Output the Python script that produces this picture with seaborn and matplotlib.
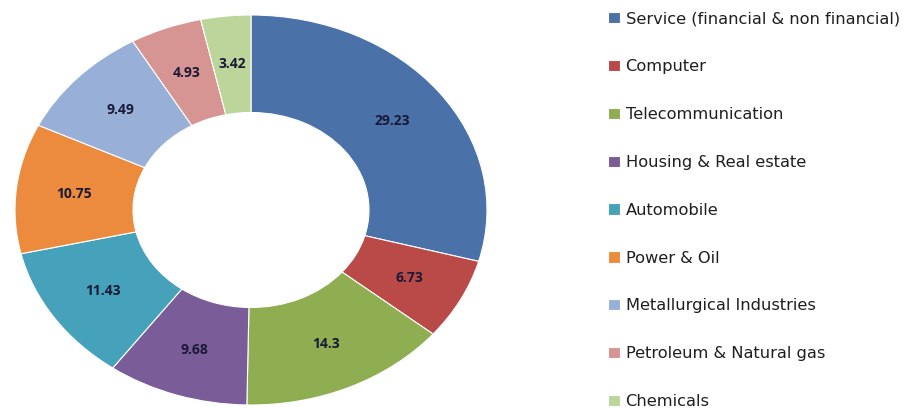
import matplotlib
matplotlib.use("Agg")
import matplotlib.pyplot as plt
import seaborn as sns
import numpy as np

categories = ["Service (financial & non financial)", "Computer", "Telecommunication",
              "Housing & Real estate", "Automobile", "Power & Oil",
              "Metallurgical Industries", "Petroleum & Natural gas", "Chemicals"]
values = [29.23, 6.73, 14.3, 9.68, 11.43, 10.75, 9.49, 4.93, 3.42]
value_labels = ["29.23", "6.73", "14.3", "9.68", "11.43", "10.75", "9.49", "4.93", "3.42"]
colors = ["#4A72A9", "#BA4A47", "#8FAE52", "#7A5C98", "#46A1BA", "#EC8B3D",
          "#98AFD8", "#D69593", "#BCD59B"]

sns.set_theme(style="white")
plt.rcParams['font.family'] = ['Open Sans', 'DejaVu Sans']
palette = sns.color_palette(colors)

fig = plt.figure(figsize=(9.14, 4.08), dpi=100)
ax = fig.add_axes([15/914, 3/408, 472/914, 390/408])

wedges, _ = ax.pie(values, colors=palette, startangle=90, counterclock=False,
                   radius=1.0, wedgeprops=dict(width=0.5, edgecolor="white", linewidth=0.8))
ax.set_aspect('auto')
ax.set_xlim(-1, 1)
ax.set_ylim(-1, 1)

for w, lab in zip(wedges, value_labels):
    ang = np.deg2rad((w.theta1 + w.theta2) / 2)
    r = 0.755
    ax.text(r*np.cos(ang), r*np.sin(ang), lab, ha="center", va="center",
            fontsize=10, fontweight="bold", color="#1a1a36")

leg = fig.legend(wedges, categories, loc="upper left", bbox_to_anchor=(603.5/914, 0.984),
                 frameon=False, prop={"family": "DejaVu Sans", "size": 11.7},
                 handlelength=0.7, handleheight=0.7,
                 handletextpad=0.36, labelspacing=2.02, borderaxespad=0.0, borderpad=0.3)
for t in leg.get_texts():
    t.set_color("#1f1f1f")

fig.savefig("out.png", dpi=100)
